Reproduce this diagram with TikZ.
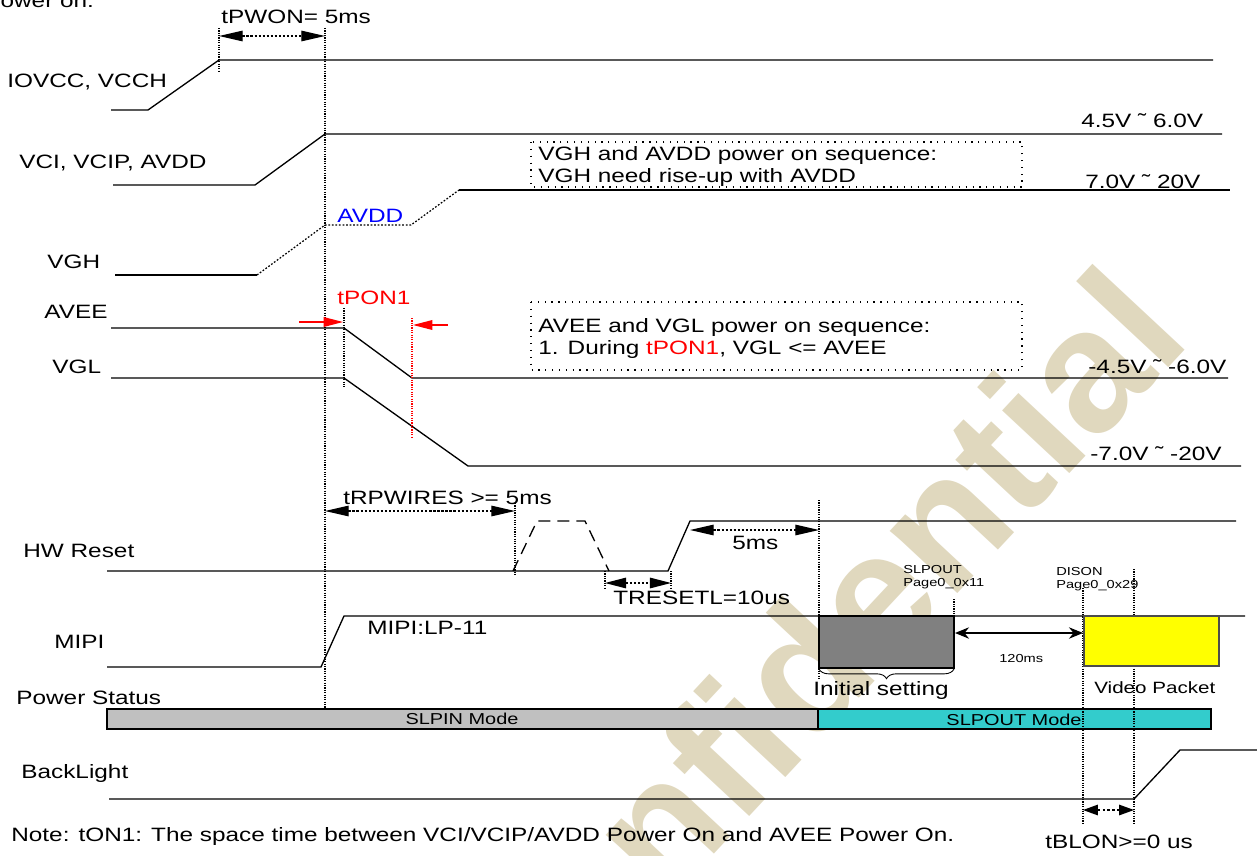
\documentclass[tikz,border=0pt]{standalone}
\usepackage{fontspec}
\setmainfont{Liberation Sans}[FakeStretch=1.26]
\newfontfamily\wmfont{Liberation Sans}
\usetikzlibrary{arrows.meta,decorations.pathreplacing}
\definecolor{wmtan}{RGB}{224,216,190}
\definecolor{slpin}{RGB}{192,192,192}
\definecolor{slpout}{RGB}{51,204,204}
\definecolor{initgray}{RGB}{128,128,128}
\definecolor{vidyel}{RGB}{255,255,0}
\tikzset{
  sig/.style={line width=0.75pt, line join=miter},
  vdot/.style={line width=0.65pt, dash pattern=on 0.65pt off 0.7pt},
  boxdot/.style={line width=0.7pt, dash pattern=on 0.7pt off 3.2pt},
  dimarrow/.style={line width=0.7pt, dash pattern=on 1.3pt off 1pt,
    {Triangle[length=13.5pt,width=6pt]}-{Triangle[length=13.5pt,width=6pt]}},
  dimsmall/.style={line width=0.7pt, dash pattern=on 1.6pt off 1.2pt,
    {Triangle[length=8.5pt,width=6pt]}-{Triangle[length=8.5pt,width=6pt]}},
  txt/.style={font=\fontsize{11}{13}\selectfont, inner sep=0pt, anchor=base west},
  stxt/.style={font=\fontsize{6.6}{7.3}\selectfont, inner sep=0pt, anchor=north west, align=left},
  modetxt/.style={font=\fontsize{9}{11}\selectfont, inner sep=0pt, anchor=base},
}
\begin{document}
\begin{tikzpicture}[x=0.02cm,y=-0.02cm]
\useasboundingbox (0,0) rectangle (1257,855);
\clip (0,0) rectangle (1257,855);

% watermark
\node[rotate=47, text=wmtan, font=\wmfont\bfseries\fontsize{99}{100}\selectfont, inner sep=0pt] (wm) at (805,666) {Confidential};

% ---- labels ----
\node[txt] (pwron) at (-16,8) {Power on:};
\node[txt] (lIOVCC) at (7,88) {IOVCC, VCCH};
\node[txt] (lVCI) at (19,168) {VCI, VCIP, AVDD};
\node[txt] (lVGH) at (47,268) {VGH};
\node[txt] (lAVEE) at (44,318) {AVEE};
\node[txt] (lVGL) at (52,373) {VGL};
\node[txt] (lHW) at (23,557) {HW Reset};
\node[txt] (lMIPI) at (54,648) {MIPI};
\node[txt] (lPS) at (16,704) {Power Status};
\node[txt] (lBL) at (21,778) {BackLight};
\node[txt] (note) at (11,841) {Note: tON1: The space time between VCI/VCIP/AVDD Power On and AVEE Power On.};

% ---- voltage values ----
\node[txt] (v1) at (1081,128) {4.5V ˜ 6.0V};
\node[txt] (v2) at (1085,188) {7.0V ˜ 20V};
\node[txt] (v3) at (1088,373) {-4.5V ˜ -6.0V};
\node[txt] (v4) at (1090,460) {-7.0V ˜ -20V};

% ---- note boxes ----
\draw[boxdot] (531,142) rectangle (1022,187);
\node[txt] (b1a) at (538,160) {VGH and AVDD power on sequence:};
\node[txt] (b1b) at (538,182) {VGH need rise-up with AVDD};
\draw[boxdot] (531,302) rectangle (1022,370);
\node[txt] (b2a) at (538,332) {AVEE and VGL power on sequence:};
\node[txt] (b2b) at (538,354) {1. During \textcolor{red}{tPON1}, VGL <= AVEE};

% ---- waveforms ----
\draw[sig] (111,110) -- (148,110) -- (219,60) -- (1213,60);
\draw[sig] (113,185) -- (255,185) -- (325,134) -- (1222,134);
\draw[sig] (115,275) -- (257,275);
\draw[line width=0.7pt, dash pattern=on 1pt off 1pt] (257,275) -- (325,225) -- (411,225) -- (459,190);
\draw[sig] (459,190) -- (1230,190);
\node[txt, text=blue] (avdd) at (337,222) {AVDD};
\draw[sig] (111,328) -- (344,328) -- (412,378) -- (1228,378);
\draw[sig] (111,378) -- (344,378) -- (468,466) -- (1241,466);
\draw[sig] (107,571) -- (668,571) -- (690,521) -- (1236,521);
\draw[line width=0.75pt, dash pattern=on 6.8pt off 4pt] (513,571) -- (537,521) -- (585,521) -- (609,571);
\draw[sig] (107,667) -- (321,667) -- (344,616) -- (1245,616);
\node[txt] (lp11) at (367,634) {MIPI:LP-11};
\draw[sig] (109,799) -- (1134,799) -- (1180,750) -- (1260,750);

% ---- vertical dotted markers ----
\draw[vdot] (219,28) -- (219,72);
\draw[vdot] (325,28) -- (325,709);
\draw[vdot] (344,308) -- (344,387);
\draw[vdot, red] (412,318) -- (412,437);
\draw[vdot] (515,503) -- (515,575);
\draw[vdot] (605,571) -- (605,588);
\draw[vdot] (671,571) -- (671,588);
\draw[vdot] (819,500) -- (819,678);
\draw[vdot] (954,599) -- (954,668);
\draw[vdot] (1083,588) -- (1083,823);
\draw[vdot] (1134,569) -- (1134,823);

% ---- timing dimensions ----
\coordinate (pwA) at (219,36); \coordinate (pwB) at (325,36);
\draw[dimarrow] (pwA) -- (pwB);
\node[txt] (tpwon) at (221,24) {tPWON= 5ms};

\coordinate (ponL) at (299,322); \coordinate (ponLe) at (343,322);
\coordinate (ponR) at (448,325); \coordinate (ponRe) at (413,325);
\draw[red, line width=0.7pt, -{Triangle[length=11pt,width=5.5pt]}] (ponL) -- (ponLe);
\draw[red, line width=0.7pt, -{Triangle[length=11pt,width=5.5pt]}] (ponR) -- (ponRe);
\node[txt, text=red] (tpon) at (337,304) {tPON1};

\coordinate (rpA) at (325,511); \coordinate (rpB) at (515,511);
\draw[dimarrow] (rpA) -- (rpB);
\node[txt] (trpw) at (343,504) {tRPWIRES >= 5ms};

\coordinate (fmA) at (690,530); \coordinate (fmB) at (819,530);
\draw[dimarrow] (fmA) -- (fmB);
\node[txt] (fivems) at (732,549) {5ms};

\coordinate (rsA) at (605,583); \coordinate (rsB) at (671,583);
\draw[line width=0.7pt, dash pattern=on 1.3pt off 1pt,
  {Triangle[length=12pt,width=6pt]}-{Triangle[length=12pt,width=6pt]}] (rsA) -- (rsB);
\node[txt] (treset) at (613,604) {TRESETL=10us};

% ---- MIPI packets ----
\draw[line width=0.6pt, fill=initgray] (819,616) rectangle (954,668);
\draw[line width=0.5pt, decorate, decoration={brace, mirror, amplitude=5.5pt}] (819,669) -- (954,669);
\node[txt] (init) at (813,695) {Initial setting};
\node[stxt] (slpo) at (903,565) {SLPOUT\\Page0\_0x11};

\coordinate (msA) at (955,633); \coordinate (msB) at (1083,633);
\draw[line width=0.7pt, {Stealth[length=8pt,width=6.5pt]}-{Stealth[length=8pt,width=6.5pt]}] (msA) -- (msB);
\node[stxt, anchor=base west] (ms120) at (999,662) {120ms};

\draw[line width=0.6pt, draw=black!70, fill=vidyel] (1084,616) rectangle (1219,666);
\node[stxt] (dison) at (1056,567) {DISON\\Page0\_0x29};
\node[font=\fontsize{9.3}{11}\selectfont, inner sep=0pt, anchor=base west] (video) at (1094,693) {Video Packet};

% ---- power status bar ----
\draw[line width=0.7pt, fill=slpin] (107,709) rectangle (818,729);
\draw[line width=0.7pt, fill=slpout] (818,709) rectangle (1211,729);
\node[modetxt] (slpin) at (462,724) {SLPIN Mode};
\node[modetxt] (slpout) at (1014,725) {SLPOUT Mode};
\draw[vdot] (1083,709) -- (1083,729);
\draw[vdot] (1134,709) -- (1134,729);

% ---- backlight ----
\coordinate (blA) at (1083,810); \coordinate (blB) at (1134,810);
\draw[dimsmall] (blA) -- (blB);
\node[txt] (tblon) at (1045,848) {tBLON>=0 us};
\end{tikzpicture}
\end{document}
